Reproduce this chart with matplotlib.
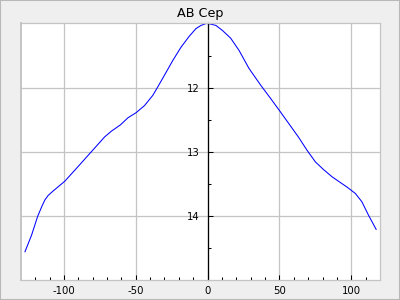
import matplotlib
matplotlib.use("Agg")
import matplotlib.pyplot as plt
from matplotlib.patches import Rectangle

# phase (x) and magnitude (y)
phase = [-127.1, -122.5, -118.3, -115.5, -113.2, -110.9, -107.4, -99.4,
         -90.1, -80.9, -71.7, -67.0, -60.6, -55.4, -49.7, -43.9, -38.1,
         -34.7, -30.1, -24.3, -18.5, -12.8, -8.1, -4.6, -1.0, 2.3, 5.8,
         10.4, 16.1, 21.9, 28.8, 36.9, 43.9, 50.1, 56.5, 63.5, 69.3, 75.1,
         80.8, 86.6, 92.4, 97.0, 102.8, 107.4, 112.0, 117.3]
mag = [14.56, 14.30, 14.01, 13.86, 13.75, 13.68, 13.61, 13.46,
       13.23, 13.00, 12.77, 12.68, 12.58, 12.47, 12.39, 12.28, 12.12,
       11.99, 11.81, 11.58, 11.37, 11.20, 11.08, 11.03, 11.00, 11.01, 11.03,
       11.11, 11.23, 11.42, 11.70, 11.96, 12.17, 12.36, 12.56, 12.78, 12.98,
       13.16, 13.28, 13.39, 13.48, 13.55, 13.65, 13.78, 13.99, 14.21]

x_major = [-100, -50, 0, 50, 100]
x_minor = [-120, -110, -90, -80, -70, -60, -40, -30, -20, -10,
           10, 20, 30, 40, 60, 70, 80, 90, 110]
y_major = [12, 13, 14]
y_minor = [11.5, 12.5, 13.5, 14.5]

plt.rcParams["axes.unicode_minus"] = False
plt.rcParams["font.family"] = "DejaVu Sans"

grey = "#c4c4c4"

fig = plt.figure(figsize=(4, 3), dpi=100, facecolor="#efefef")
fig.add_artist(Rectangle((0, 0), 1, 1, transform=fig.transFigure, fill=False,
                         ec="#b8b8b8", lw=1.5))
ax = fig.add_axes([0.052, 0.0667, 0.898, 0.855])
ax.set_facecolor("white")

ax.plot(phase, mag, color="#0000ff", lw=0.75)

ax.set_xlim(-130, 120)
ax.set_ylim(15, 11)
ax.set_xticks(x_major)
ax.set_xticks(x_minor, minor=True)
ax.set_yticks(y_major)
ax.set_yticks(y_minor, minor=True)

ax.grid(True, which="major", color=grey, lw=0.9)
ax.set_axisbelow(True)

for side in ["top", "right", "bottom"]:
    ax.spines[side].set_color(grey)
    ax.spines[side].set_linewidth(0.9)
ax.spines["left"].set_position(("data", 0))
ax.spines["left"].set_color("black")
ax.spines["left"].set_linewidth(0.9)
ax.plot([0, 0], [0, 1], transform=ax.transAxes, color=grey, lw=1.4,
        clip_on=False)

ax.tick_params(which="both", direction="in", color="black", width=0.75,
               labelsize=7.3)
ax.tick_params(which="major", length=3.6)
ax.tick_params(which="minor", length=2.4)
ax.tick_params(axis="x", pad=4)
ax.tick_params(axis="y", pad=5.5)

ax.set_title("AB Cep", fontsize=9.2, pad=5)

fig.savefig("out.png", dpi=100, facecolor=fig.get_facecolor())
